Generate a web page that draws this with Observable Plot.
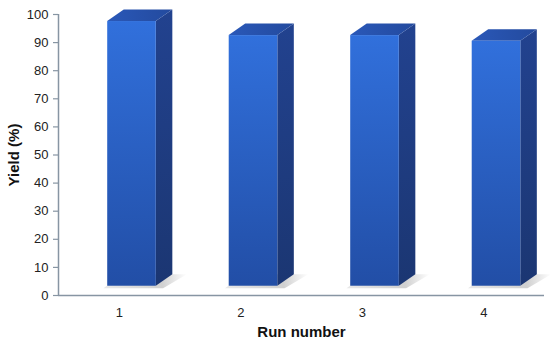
<!DOCTYPE html>
<html>
<head>
<meta charset="utf-8">
<script src="https://cdn.jsdelivr.net/npm/d3@7"></script>
<script src="https://cdn.jsdelivr.net/npm/@observablehq/plot@0.6"></script>
<style>
  html, body { margin: 0; padding: 0; background: #ffffff; }
</style>
</head>
<body>
<div id="chart"></div>
<script>
// ---- data ----
const runs = ["1", "2", "3", "4"];
const yields = [97.5, 92.5, 92.5, 90.5];
const yTicks = [0, 10, 20, 30, 40, 50, 60, 70, 80, 90, 100];
const xTitle = "Run number";
const yTitle = "Yield (%)";

// ---- 3D geometry (layout constants, in scale units) ----
const base = 3.3;      // floor level of the front face
const offL = -0.095;   // front face left edge relative to category
const barW = 0.4;      // front face width
const depX = 0.136;    // depth offset along x
const depY = 4.1;      // depth offset along y

const bars = runs.map((r, i) => ({run: r, x: i + 1, value: yields[i]}));
const sideFaces = bars.flatMap(b => [
  {run: b.run, x: b.x + offL + barW, y1: base, y2: b.value},
  {run: b.run, x: b.x + offL + barW + depX, y1: base + depY, y2: b.value + depY}
]);
const topFaces = bars.flatMap(b => [
  {run: b.run, y: b.value, x1: b.x + offL, x2: b.x + offL + barW},
  {run: b.run, y: b.value + depY, x1: b.x + offL + depX, x2: b.x + offL + barW + depX}
]);
const shadows = bars.flatMap(b => [
  {run: b.run, y: base - 0.9, x1: b.x + offL - 0.03, x2: b.x + offL + barW + 0.06},
  {run: b.run, y: base + depY, x1: b.x + offL + depX - 0.01, x2: b.x + offL + barW + depX + 0.12}
]);

const axisColor = "#8795a3";
const NS = "http://www.w3.org/2000/svg";

function defs() {
  const d = document.createElementNS(NS, "defs");
  const grads = [
    ["gFront", "0", "0", "0", "1", [["0%", "#3170dc"], ["100%", "#224ea6"]]],
    ["gSide", "0", "0", "0", "1", [["0%", "#22428f"], ["100%", "#1b3672"]]],
    ["gTop", "0", "0", "1", "0", [["0%", "#2a58b8"], ["100%", "#234a9e"]]],
    ["gShadow", "0", "0", "1", "0", [["0%", "#e2e2e2"], ["70%", "#c4c4c4"], ["100%", "#ffffff"]]]
  ];
  for (const [id, x1, y1, x2, y2, stops] of grads) {
    const g = document.createElementNS(NS, "linearGradient");
    g.setAttribute("id", id);
    g.setAttribute("x1", x1); g.setAttribute("y1", y1);
    g.setAttribute("x2", x2); g.setAttribute("y2", y2);
    for (const [off, col] of stops) {
      const s = document.createElementNS(NS, "stop");
      s.setAttribute("offset", off);
      s.setAttribute("stop-color", col);
      g.appendChild(s);
    }
    d.appendChild(g);
  }
  return d;
}

const chart = Plot.plot({
  width: 550,
  height: 342,
  marginLeft: 58,
  marginRight: 6,
  marginTop: 14,
  marginBottom: 47,
  style: {
    fontFamily: "'Liberation Sans', Arial, sans-serif",
    fontSize: "13px",
    color: "#222",
    background: "#ffffff",
    overflow: "visible"
  },
  x: {
    type: "linear",
    domain: [0.5, 4.5],
    ticks: [1, 2, 3, 4],
    tickFormat: d => runs[d - 1],
    tickSize: 0,
    tickPadding: 12,
    label: null
  },
  y: {
    domain: [0, 100],
    ticks: yTicks,
    tickSize: 0,
    tickPadding: 10,
    label: null
  },
  marks: [
    defs,
    // floor shadows
    Plot.areaX(shadows, {y: "y", x1: "x1", x2: "x2", z: "run", fill: "url(#gShadow)", fillOpacity: 0.8}),
    // axis lines and ticks
    Plot.ruleY([0], {x1: () => 0.5, x2: () => 4.5, stroke: axisColor, strokeWidth: 1.5}),
    Plot.ruleX([0.5], {y1: () => 0, y2: () => 100, stroke: axisColor, strokeWidth: 1.5}),
    Plot.ruleY(yTicks, {y: d => d, x1: () => 0.5 - 5 / 121.5, x2: () => 0.5, stroke: axisColor, strokeWidth: 1.2}),
    // side faces
    Plot.areaY(sideFaces, {x: "x", y1: "y1", y2: "y2", z: "run", fill: "url(#gSide)"}),
    // top faces
    Plot.areaX(topFaces, {y: "y", x1: "x1", x2: "x2", z: "run", fill: "url(#gTop)"}),
    // front faces
    Plot.rectY(bars, {x1: d => d.x + offL, x2: d => d.x + offL + barW, y1: () => base, y2: "value", fill: "url(#gFront)"}),
    // axis titles
    Plot.text([yTitle], {text: d => d, frameAnchor: "left", dx: -44, rotate: -90, textAnchor: "middle", lineAnchor: "middle", fontWeight: "bold", fontSize: 15, fill: "#111"}),
    Plot.text([xTitle], {text: d => d, frameAnchor: "bottom", dy: 37, textAnchor: "middle", lineAnchor: "middle", fontWeight: "bold", fontSize: 15, fill: "#111"})
  ]
});

document.getElementById("chart").appendChild(chart);
</script>
</body>
</html>
